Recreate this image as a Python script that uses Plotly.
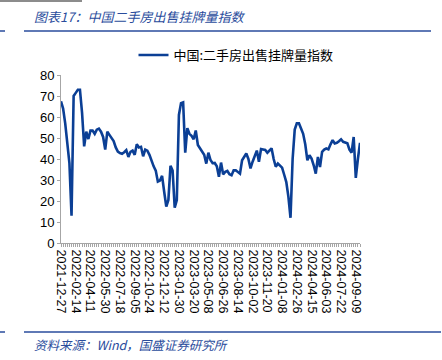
import plotly.graph_objects as go

# ---- data ----
tick_labels = ["2021-12-27", "2022-02-14", "2022-04-11", "2022-05-30", "2022-07-18",
               "2022-09-05", "2022-10-24", "2022-12-12", "2023-01-30", "2023-03-20",
               "2023-05-08", "2023-06-26", "2023-08-14", "2023-10-02", "2023-11-20",
               "2024-01-08", "2024-02-26", "2024-04-15", "2024-06-03", "2024-07-22",
               "2024-09-09"]
tick_index = [0, 7, 14, 21, 28, 35, 42, 49, 56, 63, 70, 77, 84, 91, 98, 105, 112, 119,
              126, 133, 140]

index_values = [
    67.5, 64, 57, 48, 38, 13, 70, 71.5, 73, 73,
    62, 46, 53, 49.5, 53.5, 53.5, 52, 54, 54.5, 53,
    50.5, 44.5, 53, 51.5, 50, 48.5, 45.5, 43.5, 42.8, 42.5,
    43.2, 44.2, 41, 43.4, 44, 42, 47, 45.5, 45.8, 41.3,
    44.5, 44, 42, 39, 36.5, 34.5, 29.2, 29.7, 32, 24.4,
    17.3, 20.5, 36.8, 34.5, 16.8, 20.5, 61, 66.6, 67, 43,
    54.7, 52, 51, 49.4, 53.6, 46.7, 45, 43.5, 42, 37.8,
    43, 39.5, 38, 38.1, 36.5, 31.5, 38.3, 32.7, 33.9, 34.3,
    32.8, 32.3, 34.6, 34.6, 34, 33, 39.4, 41, 42.6, 40,
    35.5, 38.7, 41.5, 44, 38.7, 44.7, 44.5, 44.3, 43, 44,
    45.1, 40, 36.3, 37.8, 36.8, 35.9, 32.5, 29, 22, 12,
    40, 54, 57, 57, 54.5, 52, 47, 39.4, 41.8, 40.2,
    37, 33, 41, 36.2, 43.4, 44.5, 45, 44.6, 47, 49,
    47.4, 47.7, 48.5, 49.4, 48.2, 48, 47.5, 44.5, 43, 50.5,
    31, 40, 47.7,
]
series_name = "中国:二手房出售挂牌量指数"
title_text = "图表17：中国二手房出售挂牌量指数"
source_text = "资料来源：Wind，国盛证券研究所"

# ---- layout constants ----
W, H = 442, 360
L, R, T, B = 61, 82, 75, 117
pw, ph = W - L - R, H - T - B

def px(x):
    return (x - L) / pw

def py(y):
    return (H - B - y) / ph

BLUE = "#0B3F95"
TXTBLUE = "#2A4C9C"
AXIS = "#A6A6A6"
FONT = "Liberation Sans, Arial, Noto Sans CJK SC, sans-serif"
CJK = "Noto Sans CJK SC, sans-serif"

fig = go.Figure()
fig.add_trace(go.Scatter(
    x=list(range(len(index_values))), y=index_values, mode="lines",
    name=series_name, line=dict(color=BLUE, width=2.6),
))

fig.update_layout(
    width=W, height=H,
    margin=dict(l=L, r=R, t=T, b=B, autoexpand=False),
    paper_bgcolor="white", plot_bgcolor="white",
    font=dict(family=FONT, size=13, color="#000000"),
    showlegend=True,
    legend=dict(orientation="h", xref="paper", yref="paper",
                x=px(236), xanchor="center", y=py(55), yanchor="middle",
                font=dict(family=CJK, size=13, color="#000000"),
                bgcolor="rgba(0,0,0,0)", itemwidth=30),
)

fig.update_xaxes(
    range=[0, len(index_values) - 1], automargin=False,
    tickmode="array", tickvals=tick_index, ticktext=tick_labels,
    tickangle=90, ticks="outside", ticklen=3, tickcolor=AXIS,
    showline=True, linecolor=AXIS, linewidth=1, showgrid=False, zeroline=False,
    tickfont=dict(family=FONT, size=12.5, color="#000000"),
    minor=dict(tickmode="linear", tick0=0, dtick=1, ticks="outside", ticklen=3,
               tickcolor=AXIS, showgrid=False),
)
fig.update_yaxes(
    range=[0, 80], dtick=10, ticks="outside", ticklen=3, tickcolor=AXIS,
    automargin=False,
    showline=True, linecolor=AXIS, linewidth=1, showgrid=False, zeroline=False,
    tickfont=dict(family=FONT, size=13, color="#000000"),
)

shapes = [
    dict(type="line", xref="paper", yref="paper", x0=px(0), x1=px(82), y0=py(1), y1=py(1),
         line=dict(color="#8C8C8C", width=2)),
    dict(type="line", xref="paper", yref="paper", x0=px(0), x1=px(5), y0=py(31), y1=py(31),
         line=dict(color=TXTBLUE, width=1.5)),
    dict(type="line", xref="paper", yref="paper", x0=px(24), x1=px(431), y0=py(31), y1=py(31),
         line=dict(color=TXTBLUE, width=1.5)),
    dict(type="line", xref="paper", yref="paper", x0=px(0), x1=px(5), y0=py(332), y1=py(332),
         line=dict(color=TXTBLUE, width=1.5)),
    dict(type="line", xref="paper", yref="paper", x0=px(24), x1=px(441), y0=py(332), y1=py(332),
         line=dict(color=TXTBLUE, width=1.5)),
]
fig.update_layout(shapes=shapes)

fig.add_annotation(xref="paper", yref="paper", x=px(32), y=py(17), xanchor="left",
                   yanchor="middle", showarrow=False, text="<i>" + title_text + "</i>",
                   font=dict(family=CJK, size=13, color=TXTBLUE))
fig.add_annotation(xref="paper", yref="paper", x=px(32), y=py(344), xanchor="left",
                   yanchor="middle", showarrow=False, text="<i>" + source_text + "</i>",
                   font=dict(family=CJK, size=12.5, color=TXTBLUE))

fig.write_html("out.html", config={"displayModeBar": False},
               post_script="document.body.style.margin='0';document.body.style.overflow='hidden';")
